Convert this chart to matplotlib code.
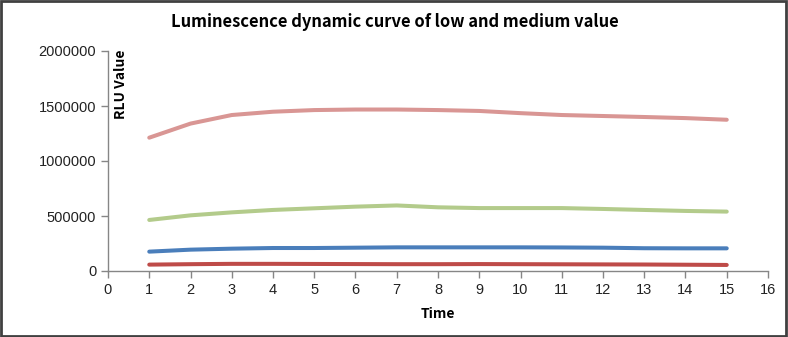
import matplotlib
matplotlib.use("Agg")
import matplotlib.pyplot as plt
from matplotlib.patches import Rectangle

time = list(range(1, 16))

high_rlu = [1212000, 1340000, 1418000, 1448000, 1463000, 1468000, 1468000,
            1463000, 1455000, 1435000, 1418000, 1409000, 1400000, 1390000, 1375000]
medium_rlu = [464000, 506000, 533000, 555000, 570000, 585000, 596000,
              579000, 572000, 572000, 572000, 564000, 555000, 546000, 540000]
low_rlu = [176000, 194000, 203000, 209000, 209000, 212000, 215000,
           215000, 215000, 215000, 214000, 212000, 207000, 206000, 206000]
lowest_rlu = [58000, 62000, 65000, 65000, 64000, 63000, 62000,
              62000, 63000, 62000, 61000, 60000, 59000, 57000, 55000]

series = [
    (high_rlu, "#D99694"),
    (medium_rlu, "#B3CB8B"),
    (low_rlu, "#4A7EBB"),
    (lowest_rlu, "#BE4B48"),
]

fig = plt.figure(figsize=(7.88, 3.37), dpi=100)
ax = fig.add_axes([108 / 788, 66 / 337, 660 / 788, 220 / 337])

for values, color in series:
    ax.plot(time, values, color=color, linewidth=2.9,
            solid_capstyle="round", solid_joinstyle="round")

ax.set_xlim(0, 16)
ax.set_ylim(0, 2000000)
ax.set_xticks(range(0, 17))
ax.set_yticks([0, 500000, 1000000, 1500000, 2000000])
ax.set_yticklabels(["0", "500000", "1000000", "1500000", "2000000"])

for side in ["top", "right"]:
    ax.spines[side].set_visible(False)
for side in ["left", "bottom"]:
    ax.spines[side].set_color("#868686")
    ax.spines[side].set_linewidth(1.0)

ax.tick_params(colors="#868686", length=5, width=1.0, direction="out")
ax.tick_params(labelcolor="#222222", labelsize=10.5)
for lab in ax.get_xticklabels() + ax.get_yticklabels():
    lab.set_family("Liberation Sans")

fig.text(395 / 788, 1 - 22 / 337, "Luminescence dynamic curve of low and medium value",
         ha="center", va="center", fontsize=11.9, fontweight="bold",
         family="Noto Sans CJK SC")
fig.text(121 / 788, 1 - 84 / 337, "RLU Value", rotation=90,
         ha="center", va="center", fontsize=10, fontweight="bold",
         family="Noto Sans CJK SC")
fig.text(438 / 788, 1 - 314 / 337, "Time",
         ha="center", va="center", fontsize=10, fontweight="bold",
         family="Noto Sans CJK SC")

fig.patches.append(Rectangle((0.001, 0.002), 0.997, 0.995, transform=fig.transFigure,
                             fill=False, edgecolor="#404040", linewidth=2.0))

fig.savefig("out.png", dpi=100)
